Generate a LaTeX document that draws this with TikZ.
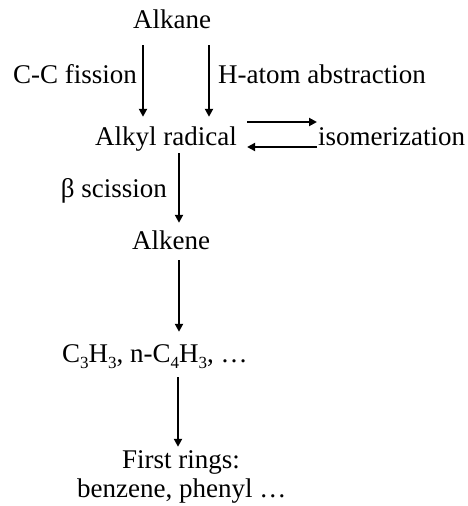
\documentclass[tikz,border=0pt]{standalone}
\usepackage{fontspec}
\setmainfont{Liberation Serif}
\usetikzlibrary{arrows.meta}
\newcommand{\subnum}[1]{\raisebox{-6pt}{\fontsize{17}{17}\selectfont #1}}
\begin{document}
\begin{tikzpicture}[x=1pt,y=-1pt,
  lbl/.style={font=\fontsize{27}{32}\selectfont, inner sep=0pt, text height=18pt, text depth=0pt},
  arr/.style={line width=2pt, -{Triangle[length=8pt,width=8pt]}}]
\useasboundingbox (0,0) rectangle (468,506);
\node[lbl,anchor=base west] (alkane) at (133,28) {Alkane};
\node[lbl,anchor=base east] (ccf) at (137,83) {C-C fission};
\node[lbl,anchor=base west] (hab) at (218,83) {H-atom abstraction};
\node[lbl,anchor=base west] (alkyl) at (95,145) {Alkyl radical};
\node[lbl,anchor=base west] (iso) at (318,145) {isomerization};
\node[lbl,anchor=base east] (beta) at (167,197) {β scission};
\node[lbl,anchor=base west] (alkene) at (132,249) {Alkene};
\node[lbl,anchor=base west] (cxhy) at (62,362) {C\subnum{3}H\subnum{3}, n-C\subnum{4}H\subnum{3}, …};
\node[lbl,anchor=base west] (rings) at (122,468) {First rings:};
\node[lbl,anchor=base west] (benz) at (77,497) {benzene, phenyl …};
\coordinate (xa) at (143,0);
\coordinate (xb) at (209,0);
\coordinate (xc) at (179,0);
\coordinate (xd) at (178,0);
\draw[arr,shorten <=17pt,shorten >=10pt] (xa |- alkane.south) -- (xa |- alkyl.north);
\draw[arr,shorten <=17pt,shorten >=10pt] (xb |- alkane.south) -- (xb |- alkyl.north);
\draw[arr,shorten <=10pt,shorten >=1pt] ([yshift=14pt]alkyl.east) -- ([yshift=14pt]iso.west);
\draw[arr,shorten <=1pt,shorten >=10pt] ([yshift=-11pt]iso.west) -- ([yshift=-11pt]alkyl.east);
\draw[arr,shorten <=8pt,shorten >=8pt] (xc |- alkyl.south) -- (xc |- alkene.north);
\draw[arr,shorten <=11pt,shorten >=12pt] (xc |- alkene.south) -- (xc |- cxhy.north);
\draw[arr,shorten <=15pt,shorten >=3pt] (xd |- cxhy.south) -- (xd |- rings.north);
\end{tikzpicture}
\end{document}
